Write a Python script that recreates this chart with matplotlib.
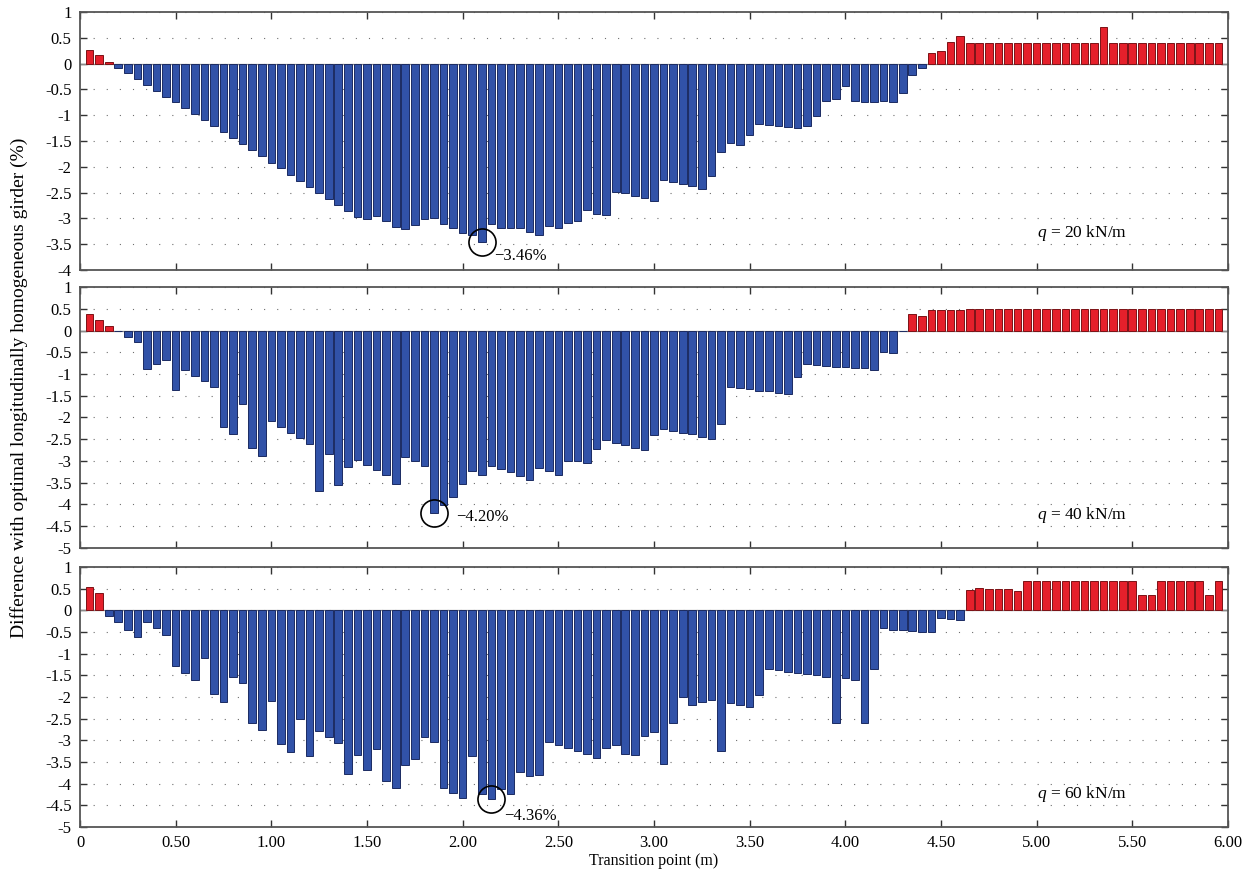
import matplotlib.pyplot as plt
import numpy as np
from matplotlib.ticker import FuncFormatter

plt.rcParams['font.family'] = ['Liberation Serif', 'DejaVu Serif']
plt.rcParams['mathtext.fontset'] = 'custom'
plt.rcParams['mathtext.it'] = 'Liberation Serif:italic'
plt.rcParams['mathtext.rm'] = 'Liberation Serif'

# transition points, one bar every 0.05 m (0.05 ... 5.95)
step = 0.05
n_points = 119
x = np.round(np.arange(1, n_points + 1) * step, 2)

# difference (%) for q = 20 kN/m
q20 = [0.27, 0.16, 0.03, -0.08, -0.19, -0.30, -0.42, -0.53, -0.64, -0.75,
       -0.86, -0.98, -1.10, -1.21, -1.32, -1.44, -1.56, -1.68, -1.80, -1.92,
       -2.03, -2.15, -2.27, -2.39, -2.51, -2.62, -2.74, -2.86, -2.98, -3.01,
       -2.96, -3.06, -3.17, -3.20, -3.12, -3.01, -3.00, -3.10, -3.19, -3.29,
       -3.33, -3.46, -3.11, -3.19, -3.19, -3.19, -3.26, -3.32, -3.14, -3.19,
       -3.09, -3.05, -2.84, -2.92, -2.94, -2.48, -2.51, -2.56, -2.61, -2.66,
       -2.25, -2.30, -2.34, -2.38, -2.43, -2.17, -1.71, -1.53, -1.58, -1.39,
       -1.17, -1.19, -1.21, -1.23, -1.25, -1.21, -1.02, -0.72, -0.69, -0.43,
       -0.72, -0.74, -0.75, -0.73, -0.75, -0.57, -0.23, -0.08, 0.21, 0.25,
       0.42, 0.53, 0.40, 0.40, 0.40, 0.40, 0.40, 0.40, 0.40, 0.40,
       0.40, 0.40, 0.40, 0.40, 0.40, 0.40, 0.70, 0.40, 0.40, 0.40,
       0.40, 0.40, 0.40, 0.40, 0.40, 0.40, 0.40, 0.40, 0.40]

# difference (%) for q = 40 kN/m
q40 = [0.38, 0.24, 0.11, -0.02, -0.14, -0.27, -0.89, -0.78, -0.67, -1.37,
       -0.91, -1.05, -1.17, -1.31, -2.21, -2.38, -1.69, -2.71, -2.88, -2.08,
       -2.21, -2.35, -2.47, -2.60, -3.68, -2.85, -3.56, -3.13, -2.97, -3.09,
       -3.21, -3.33, -3.54, -2.91, -3.01, -3.12, -4.20, -4.02, -3.83, -3.52,
       -3.24, -3.33, -3.11, -3.18, -3.26, -3.35, -3.43, -3.17, -3.24, -3.33,
       -3.01, -2.99, -3.05, -2.73, -2.52, -2.58, -2.64, -2.69, -2.75, -2.40,
       -2.26, -2.30, -2.35, -2.39, -2.44, -2.50, -2.14, -1.29, -1.33, -1.35,
       -1.38, -1.40, -1.43, -1.46, -1.07, -0.78, -0.80, -0.81, -0.83, -0.84,
       -0.86, -0.87, -0.90, -0.50, -0.51, -0.02, 0.37, 0.34, 0.48, 0.48,
       0.48, 0.46, 0.49, 0.49, 0.49, 0.49, 0.49, 0.49, 0.49, 0.49,
       0.49, 0.49, 0.49, 0.49, 0.49, 0.49, 0.49, 0.49, 0.49, 0.49,
       0.49, 0.49, 0.49, 0.49, 0.49, 0.49, 0.49, 0.49, 0.49]

# difference (%) for q = 60 kN/m
q60 = [0.53, 0.40, -0.14, -0.28, -0.46, -0.62, -0.28, -0.42, -0.56, -1.29,
       -1.45, -1.62, -1.11, -1.93, -2.12, -1.53, -1.67, -2.61, -2.77, -2.09,
       -3.09, -3.27, -2.50, -3.37, -2.78, -2.92, -3.06, -3.77, -3.34, -3.68,
       -3.20, -3.95, -4.09, -3.57, -3.43, -2.92, -3.03, -4.10, -4.22, -4.33,
       -3.37, -4.23, -4.36, -4.12, -4.23, -3.74, -3.83, -3.80, -3.03, -3.10,
       -3.17, -3.25, -3.32, -3.40, -3.17, -3.11, -3.31, -3.34, -2.89, -2.80,
       -3.54, -2.60, -2.01, -2.19, -2.12, -2.06, -3.25, -2.14, -2.18, -2.23,
       -1.96, -1.35, -1.38, -1.43, -1.45, -1.47, -1.50, -1.53, -2.61, -1.57,
       -1.62, -2.61, -1.36, -0.42, -0.45, -0.46, -0.47, -0.49, -0.50, -0.18,
       -0.19, -0.22, 0.47, 0.51, 0.50, 0.49, 0.48, 0.45, 0.67, 0.67,
       0.67, 0.67, 0.67, 0.67, 0.67, 0.67, 0.67, 0.67, 0.67, 0.67,
       0.35, 0.35, 0.67, 0.67, 0.67, 0.67, 0.67, 0.35, 0.67]

series = [q20, q40, q60]
loads = ['20', '40', '60']
y_bottoms = [-4, -5, -5]
min_idx = [41, 36, 42]           # index of the circled minimum bar
min_labels = ['\u22123.46%', '\u22124.20%', '\u22124.36%']
min_offsets = [(9, -10), (16, -3), (9, -12)]   # text offset (points)
q_label_y = [-3.28, -4.25, -4.23]

x_ticks = np.arange(0, 6.01, 0.5)
x_ticklabels = ['0'] + [f'{v:.2f}' for v in x_ticks[1:]]

blue, blue_edge = '#3152a8', '#1b2b62'
red, red_edge = '#e5202b', '#7c1216'

fig = plt.figure(figsize=(12.56, 8.82), dpi=100)
ax_pos = [[0.0637, 0.6939, 0.914, 0.2925],
          [0.0637, 0.3787, 0.914, 0.2959],
          [0.0637, 0.0624, 0.914, 0.2948]]

for k in range(3):
    ax = fig.add_axes(ax_pos[k])
    vals = np.array(series[k])
    colors = [red if v > 0 else blue for v in vals]
    edges = [red_edge if v > 0 else blue_edge for v in vals]
    ax.bar(x, vals, width=0.04, color=colors, edgecolor=edges, linewidth=0.7, zorder=3)
    ax.axhline(0, color='#8a8a8a', lw=0.9, zorder=2)

    ax.set_xlim(0, 6)
    ax.set_ylim(y_bottoms[k], 1)
    ax.set_yticks(np.arange(y_bottoms[k], 1.01, 0.5))
    ax.yaxis.set_major_formatter(FuncFormatter(lambda v, p: f'{v:g}'))
    ax.set_xticks(x_ticks)
    if k == 2:
        ax.set_xticklabels(x_ticklabels)
        ax.set_xlabel('Transition point (m)', fontsize=11.5, labelpad=1)
    else:
        ax.set_xticklabels([])

    ax.set_axisbelow(True)
    ax.grid(axis='y', linestyle=(0, (1, 10.8)), color='#6f6f6f', linewidth=0.8)
    ax.tick_params(direction='in', length=5, width=1, top=True, right=True,
                   labelsize=12, colors='#333333', labelcolor='black', pad=6)
    for sp in ax.spines.values():
        sp.set_color('#555555')
        sp.set_linewidth(1.3)

    # circled minimum
    i = min_idx[k]
    ax.plot(x[i], vals[i], 'o', ms=19.5, mfc='none', mec='black', mew=1.2, zorder=5)
    ax.annotate(min_labels[k], (x[i], vals[i]), xytext=min_offsets[k],
                textcoords='offset points', ha='left', va='center', fontsize=12)

    ax.text(5.24, q_label_y[k], '$q$ = ' + loads[k] + ' kN/m', ha='center', va='center',
            fontsize=12.5)

fig.text(0.015, 0.56, 'Difference with optimal longitudinally homogeneous girder (%)',
         rotation=90, ha='center', va='center', fontsize=14)

fig.savefig('out.png', dpi=100)
